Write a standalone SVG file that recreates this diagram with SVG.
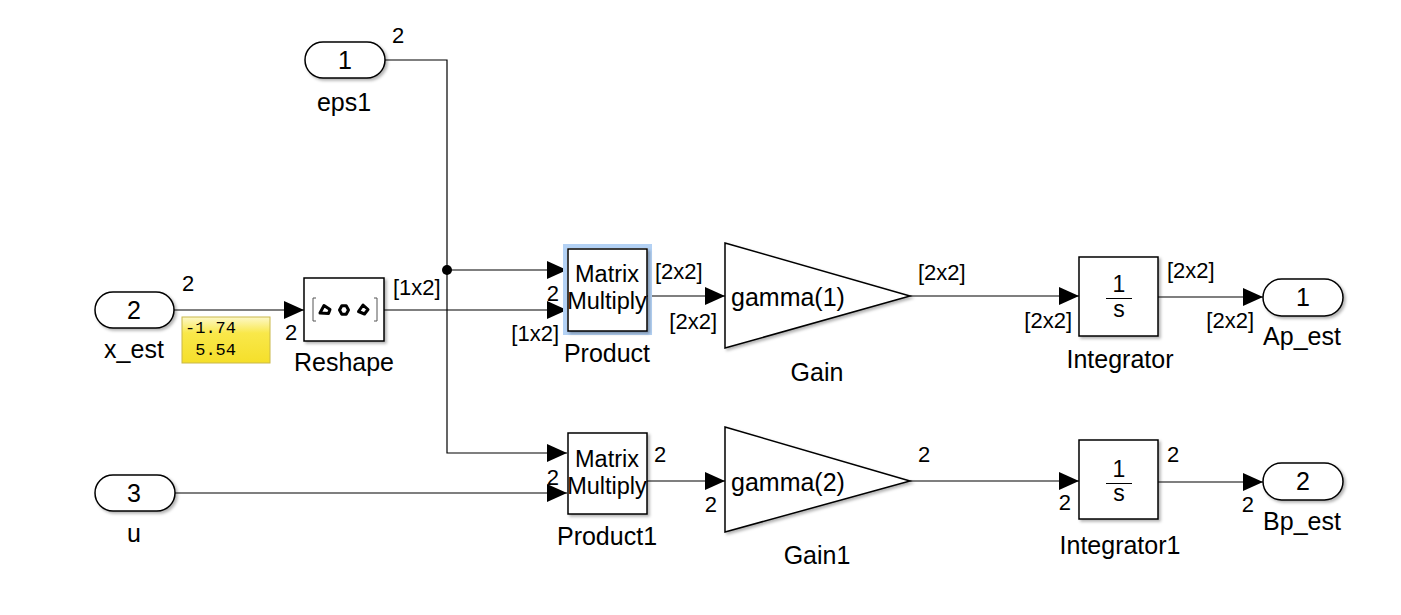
<svg xmlns="http://www.w3.org/2000/svg" width="1401" height="615" viewBox="0 0 1401 615">
<defs>
<style>
text{font-family:"Liberation Sans",Arial,sans-serif;fill:#000}
.blk{fill:#fff;stroke:#000;stroke-width:1.5}
.cap{fill:#fff;stroke:#000;stroke-width:1.5}
.bl{font-size:25px;text-anchor:middle}
.mm{font-size:23.5px;text-anchor:middle}
.pn{font-size:25px;text-anchor:middle}
.pl{font-size:22px}
.mid{text-anchor:middle}
.end{text-anchor:end}
.ln{fill:none;stroke:#000;stroke-width:1.2}
.mono{font-family:"Liberation Mono","Courier New",monospace;font-size:17px;text-anchor:end}
.ico{fill:none;stroke:#000;stroke-width:3;stroke-linejoin:round}
</style>
<filter id="sh" x="-10%" y="-10%" width="130%" height="130%">
<feDropShadow dx="2" dy="2" stdDeviation="1.5" flood-color="#000" flood-opacity="0.3"/>
</filter>
<marker id="arr" viewBox="0 0 20 18" refX="20" refY="9" markerWidth="20" markerHeight="18" markerUnits="userSpaceOnUse" orient="auto">
<path d="M0,0 L20,9 L0,18 Z" fill="#000"/>
</marker>
<linearGradient id="yel" x1="0" y1="0" x2="0" y2="1">
<stop offset="0" stop-color="#fdf8c8"/>
<stop offset="0.35" stop-color="#f9e84a"/>
<stop offset="1" stop-color="#f5df2a"/>
</linearGradient>
</defs>
<rect width="1401" height="615" fill="#fff"/>

<g id="connectors">
<path class="ln" d="M385,60 H447 V453 H567" marker-end="url(#arr)"/>
<path class="ln" d="M447,270 H567" marker-end="url(#arr)"/>
<circle cx="447" cy="270" r="5" fill="#000"/>
<path class="ln" d="M174,310 H304" marker-end="url(#arr)"/>
<path class="ln" d="M384,310 H567" marker-end="url(#arr)"/>
<path class="ln" d="M175,493 H567" marker-end="url(#arr)"/>
<path class="ln" d="M647,296 H725" marker-end="url(#arr)"/>
<path class="ln" d="M910,296 H1079" marker-end="url(#arr)"/>
<path class="ln" d="M1158,297 H1263" marker-end="url(#arr)"/>
<path class="ln" d="M647,481 H725" marker-end="url(#arr)"/>
<path class="ln" d="M910,481 H1079" marker-end="url(#arr)"/>
<path class="ln" d="M1158,482 H1263" marker-end="url(#arr)"/>
<text class="pl mid" x="398" y="43">2</text>
<text class="pl mid" x="188" y="291">2</text>
<text class="pl mid" x="291" y="340">2</text>
<text class="pl" x="393" y="295">[1x2]</text>
<text class="pl end" x="559" y="301">2</text>
<text class="pl end" x="559" y="341">[1x2]</text>
<text class="pl" x="655" y="279">[2x2]</text>
<text class="pl end" x="717" y="329">[2x2]</text>
<text class="pl" x="918" y="280">[2x2]</text>
<text class="pl end" x="1072" y="328">[2x2]</text>
<text class="pl" x="1167" y="278">[2x2]</text>
<text class="pl end" x="1254" y="328">[2x2]</text>
<text class="pl end" x="559" y="485">2</text>
<text class="pl" x="654" y="462">2</text>
<text class="pl end" x="717" y="512">2</text>
<text class="pl" x="918" y="462">2</text>
<text class="pl end" x="1071" y="510">2</text>
<text class="pl" x="1167" y="462">2</text>
<text class="pl end" x="1254" y="512">2</text>
</g>

<g id="eps1">
<rect class="cap" x="305" y="42" width="80" height="36" rx="18" filter="url(#sh)"/>
<text class="pn" x="345" y="69">1</text>
<text class="bl" x="344" y="111">eps1</text>
</g>

<g id="x_est">
<rect class="cap" x="95" y="292" width="79" height="36" rx="18" filter="url(#sh)"/>
<text class="pn" x="134" y="319">2</text>
<text class="bl" x="134" y="358">x_est</text>
</g>

<g id="display">
<rect x="182" y="317" width="88" height="46" fill="url(#yel)" stroke="#c9b84a" stroke-width="1"/>
<text class="mono" x="236" y="333">-1.74</text>
<text class="mono" x="236" y="355">5.54</text>
</g>

<g id="u">
<rect class="cap" x="95" y="475" width="80" height="36" rx="18" filter="url(#sh)"/>
<text class="pn" x="134" y="502">3</text>
<text class="bl" x="134" y="542">u</text>
</g>

<g id="Reshape">
<rect class="blk" x="304" y="278" width="80" height="63" filter="url(#sh)"/>
<path d="M316,298 H313 V321 H316 M374,298 H377 V321 H374" fill="none" stroke="#555" stroke-width="1"/>
<polygon class="ico" points="320,313 324,305.5 330,309.5 328.5,313.5"/>
<polygon class="ico" points="339.5,310 341.8,305.8 346.2,305.8 348.5,310 346.2,314.2 341.8,314.2"/>
<polygon class="ico" points="358.5,311.5 363,305 368,309.5 364.5,314"/>
<text class="bl" x="344" y="371">Reshape</text>
</g>

<g id="Product">
<rect x="565" y="246" width="85" height="87" fill="none" stroke="#b3d1f4" stroke-width="4"/>
<rect class="blk" x="568" y="249" width="79" height="82" filter="url(#sh)"/>
<text class="mm" x="607" y="282">Matrix</text>
<text class="mm" x="607" y="309">Multiply</text>
<text class="bl" x="607" y="362">Product</text>
</g>

<g id="Product1">
<rect class="blk" x="568" y="433" width="79" height="81" filter="url(#sh)"/>
<text class="mm" x="607" y="467">Matrix</text>
<text class="mm" x="607" y="494">Multiply</text>
<text class="bl" x="607" y="545">Product1</text>
</g>

<g id="Gain">
<polygon class="blk" points="725,243 910,296 725,348" filter="url(#sh)"/>
<text class="bl" x="731" y="306" style="text-anchor:start">gamma(1)</text>
<text class="bl" x="817" y="381">Gain</text>
</g>

<g id="Gain1">
<polygon class="blk" points="725,427 910,481 725,532" filter="url(#sh)"/>
<text class="bl" x="731" y="491" style="text-anchor:start">gamma(2)</text>
<text class="bl" x="817" y="564">Gain1</text>
</g>

<g id="Integrator">
<rect class="blk" x="1079" y="257" width="79" height="79" filter="url(#sh)"/>
<text x="1119" y="292" style="font-size:23px;text-anchor:middle">1</text>
<line x1="1106" y1="298.5" x2="1132" y2="298.5" stroke="#000" stroke-width="1"/>
<text x="1119" y="317" style="font-size:23px;text-anchor:middle">s</text>
<text class="bl" x="1120" y="368">Integrator</text>
</g>

<g id="Integrator1">
<rect class="blk" x="1079" y="440" width="79" height="79" filter="url(#sh)"/>
<text x="1119" y="477" style="font-size:23px;text-anchor:middle">1</text>
<line x1="1106" y1="483.5" x2="1132" y2="483.5" stroke="#000" stroke-width="1"/>
<text x="1119" y="501" style="font-size:23px;text-anchor:middle">s</text>
<text class="bl" x="1120" y="554">Integrator1</text>
</g>

<g id="Ap_est">
<rect class="cap" x="1263" y="279" width="80" height="37" rx="18.5" filter="url(#sh)"/>
<text class="pn" x="1303" y="306">1</text>
<text class="bl" x="1302" y="345">Ap_est</text>
</g>

<g id="Bp_est">
<rect class="cap" x="1263" y="463" width="80" height="37" rx="18.5" filter="url(#sh)"/>
<text class="pn" x="1303" y="490">2</text>
<text class="bl" x="1302" y="530">Bp_est</text>
</g>
</svg>
